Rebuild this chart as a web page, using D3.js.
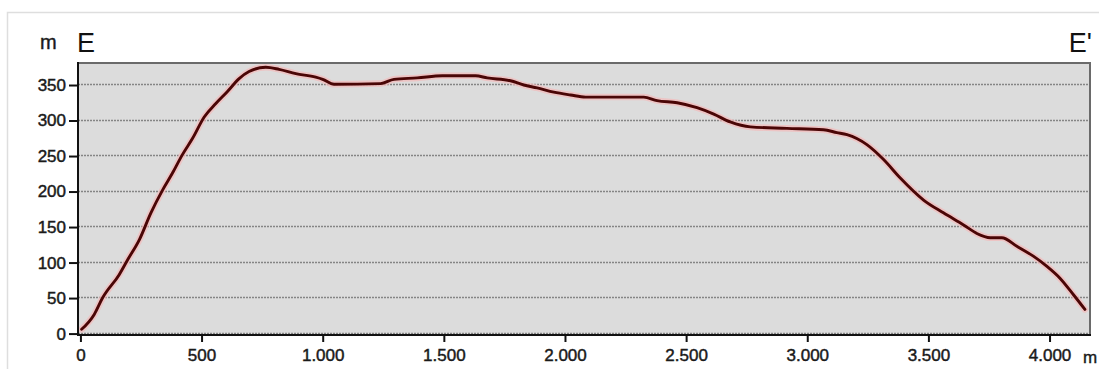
<!DOCTYPE html>
<html>
<head>
<meta charset="utf-8">
<script src="https://cdn.jsdelivr.net/npm/d3@7"></script>
<style>
  body { margin: 0; background: #fff; }
  svg { display: block; font-family: "Liberation Sans", Arial, sans-serif; }
</style>
</head>
<body>
<svg width="1099" height="369"></svg>
<script>
// profile E - E'  (distance in m, elevation in m)
const distance = [5, 57, 91, 160, 195, 243, 291, 339, 380, 421, 463, 511, 559, 607, 655, 696,
  765, 820, 889, 971, 1000, 1047, 1239, 1294, 1390, 1494, 1631, 1679, 1775, 1830, 1885, 1954,
  2023, 2085, 2325, 2380, 2463, 2545, 2614, 2682, 2765, 2916, 3067, 3122, 3164, 3246, 3315,
  3384, 3480, 3562, 3645, 3700, 3755, 3803, 3865, 3933, 3988, 4043, 4098, 4146];
const elevation = [6, 27, 50, 83, 104, 132, 170, 202, 226, 252, 275, 305, 324, 341, 359, 369,
  375, 372, 366, 361, 358, 351, 352, 358, 360, 363, 363, 360, 356, 350, 346, 340,
  336, 333, 333, 328, 325, 318, 309, 298, 291, 289, 287, 283, 280, 266, 245,
  219, 188, 170, 153, 141, 135, 135, 123, 109, 95, 78, 55, 34];
const yTicks = [0, 50, 100, 150, 200, 250, 300, 350];
const xTicks = [0, 500, 1000, 1500, 2000, 2500, 3000, 3500, 4000];

const svg = d3.select("svg");
const plot = { left: 78, right: 1090, top: 63, bottom: 335 };

const x = d3.scaleLinear().domain([-10, 4167]).range([plot.left, plot.right]);
const y = d3.scaleLinear().domain([-2, 381]).range([plot.bottom, plot.top]);

const fmt = d3.formatLocale({ decimal: ",", thousands: ".", grouping: [3], currency: ["", ""] }).format(",");

// outer frame
svg.append("path")
  .attr("d", "M7.5,369 V12.5 H1099")
  .attr("fill", "none").attr("stroke", "#dedede").attr("stroke-width", 1.5);

// plot background
svg.append("rect")
  .attr("x", plot.left).attr("y", plot.top)
  .attr("width", plot.right - plot.left).attr("height", plot.bottom - plot.top)
  .attr("fill", "#dcdcdc");

// grid
svg.append("g").selectAll("line").data(yTicks).join("line")
  .attr("x1", plot.left).attr("x2", plot.right)
  .attr("y1", d => Math.round(y(d)) - 0.5).attr("y2", d => Math.round(y(d)) - 0.5)
  .attr("stroke", "#858585").attr("stroke-width", 1.3).attr("stroke-dasharray", "2,1");

// top / right border
svg.append("path")
  .attr("d", `M${plot.left},${plot.top} H${plot.right} V${plot.bottom}`)
  .attr("fill", "none").attr("stroke", "#6a6a6a").attr("stroke-width", 2);

// profile line
const line = d3.line().curve(d3.curveMonotoneX).x((d, i) => x(d)).y((d, i) => y(elevation[i]));
svg.append("path").datum(distance)
  .attr("d", line).attr("fill", "none")
  .attr("stroke", "#f3b9b9").attr("stroke-width", 6.5).attr("stroke-opacity", 0.7)
  .attr("stroke-linejoin", "round").attr("stroke-linecap", "round");
svg.append("path").datum(distance)
  .attr("d", line).attr("fill", "none")
  .attr("stroke", "#4a0606").attr("stroke-width", 2.9)
  .attr("stroke-linejoin", "round").attr("stroke-linecap", "round");

// axes
const yAxis = svg.append("g")
  .attr("transform", `translate(${plot.left},0)`)
  .call(d3.axisLeft(y).tickValues(yTicks).tickSize(9).tickPadding(3));
const xAxis = svg.append("g")
  .attr("transform", `translate(0,${plot.bottom})`)
  .call(d3.axisBottom(x).tickValues(xTicks).tickFormat(fmt).tickSize(7).tickPadding(7));

[yAxis, xAxis].forEach(g => {
  g.select(".domain").remove();
  g.selectAll("line").attr("stroke", "#111").attr("stroke-width", 2);
  g.selectAll("text").attr("fill", "#1a1a1a").attr("font-size", 17)
    .attr("stroke", "#1a1a1a").attr("stroke-width", 0.45)
    .attr("font-family", "Liberation Sans, Arial, sans-serif");
});

// left / bottom axis lines
svg.append("path")
  .attr("d", `M${plot.left},${plot.top - 1} V${plot.bottom} H${plot.right + 1}`)
  .attr("fill", "none").attr("stroke", "#111").attr("stroke-width", 2);

// labels
svg.append("text").attr("x", 40).attr("y", 49).attr("font-size", 20).attr("fill", "#1a1a1a")
  .attr("stroke", "#1a1a1a").attr("stroke-width", 0.4).text("m");
svg.append("text").attr("x", 1083).attr("y", 363).attr("font-size", 17).attr("fill", "#1a1a1a")
  .attr("stroke", "#1a1a1a").attr("stroke-width", 0.4).text("m");
svg.append("text").attr("x", 77).attr("y", 52).attr("font-size", 27).attr("fill", "#111").text("E");
svg.append("text").attr("x", 1092).attr("y", 52).attr("font-size", 27).attr("fill", "#111")
  .attr("text-anchor", "end").text("E'");
</script>
</body>
</html>
